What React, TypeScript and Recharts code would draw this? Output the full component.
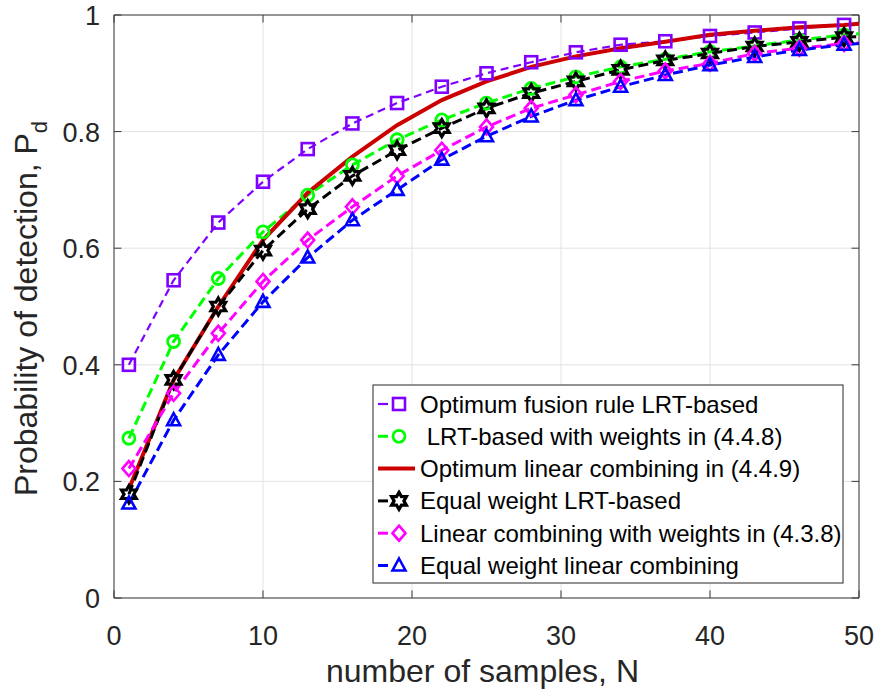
import React from 'react';
import { LineChart, Line, XAxis, YAxis, CartesianGrid, ReferenceLine, ReferenceArea } from 'recharts';

const samples = [1, 4, 7, 10, 13, 16, 19, 22, 25, 28, 31, 34, 37, 40, 43, 46, 49, 50];
const optimumFusion = [0.400, 0.545, 0.644, 0.714, 0.770, 0.814, 0.849, 0.877, 0.900, 0.919, 0.936, 0.949, 0.955, 0.964, 0.970, 0.977, 0.983, 0.985];
const lrtWeighted = [0.274, 0.440, 0.548, 0.628, 0.691, 0.743, 0.786, 0.820, 0.849, 0.874, 0.894, 0.911, 0.924, 0.937, 0.947, 0.957, 0.966, 0.968];
const optimumLinear = [0.187, 0.374, 0.500, 0.614, 0.695, 0.757, 0.811, 0.854, 0.886, 0.911, 0.929, 0.943, 0.954, 0.966, 0.973, 0.979, 0.983, 0.985];
const equalLrt = [0.178, 0.374, 0.500, 0.596, 0.667, 0.724, 0.768, 0.806, 0.840, 0.866, 0.886, 0.906, 0.922, 0.934, 0.946, 0.954, 0.962, 0.963];
const linearWeighted = [0.222, 0.351, 0.454, 0.543, 0.614, 0.671, 0.724, 0.768, 0.808, 0.840, 0.863, 0.886, 0.904, 0.917, 0.934, 0.943, 0.951, 0.952];
const equalLinear = [0.162, 0.305, 0.417, 0.508, 0.584, 0.648, 0.700, 0.752, 0.792, 0.826, 0.854, 0.877, 0.897, 0.914, 0.928, 0.940, 0.949, 0.951];

const xTicks = [0, 10, 20, 30, 40, 50];
const yTicks = [0, 0.2, 0.4, 0.6, 0.8, 1];
const seriesNames = [
  'Optimum fusion rule LRT-based',
  ' LRT-based with weights in (4.4.8)',
  'Optimum linear combining in (4.4.9)',
  'Equal weight LRT-based',
  'Linear combining with weights in (4.3.8)',
  'Equal weight linear combining',
];

const FONT = "'Liberation Sans', Arial, Helvetica, sans-serif";
const AX = '#262626';

type Marker = 'square' | 'circle' | 'none' | 'hexagram' | 'diamond' | 'triangle';

const series: { key: string; values: number[]; color: string; width: number; dash?: string; marker: Marker }[] = [
  { key: 's1', values: optimumFusion, color: '#7f00ff', width: 2.2, dash: '8 5', marker: 'square' },
  { key: 's2', values: lrtWeighted, color: '#00ff00', width: 3, dash: '10 5', marker: 'circle' },
  { key: 's3', values: optimumLinear, color: '#cc0000', width: 4, marker: 'none' },
  { key: 's4', values: equalLrt, color: '#000000', width: 3, dash: '10 5', marker: 'hexagram' },
  { key: 's5', values: linearWeighted, color: '#ff00ff', width: 3, dash: '10 5', marker: 'diamond' },
  { key: 's6', values: equalLinear, color: '#0000ff', width: 3, dash: '10 5', marker: 'triangle' },
];

const rows = samples.map((n, i) => {
  const r: Record<string, number> = { n };
  series.forEach((s) => { r[s.key] = s.values[i]; });
  return r;
});

function hexPoints(cx: number, cy: number, R: number) {
  const r = R / Math.sqrt(3);
  const pts: string[] = [];
  for (let k = 0; k < 12; k++) {
    const a = (-90 + k * 30) * Math.PI / 180;
    const rad = k % 2 === 0 ? R : r;
    pts.push(`${cx + rad * Math.cos(a)},${cy + rad * Math.sin(a)}`);
  }
  return pts.join(' ');
}

function MarkerShape({ type, cx, cy, color }: { type: Marker; cx: number; cy: number; color: string }) {
  const sw = 2.6;
  switch (type) {
    case 'square':
      return <rect x={cx - 6} y={cy - 6} width={12} height={12} fill="none" stroke={color} strokeWidth={sw} />;
    case 'circle':
      return <circle cx={cx} cy={cy} r={6} fill="none" stroke={color} strokeWidth={2.8} />;
    case 'hexagram':
      return <polygon points={hexPoints(cx, cy, 8.5)} fill="none" stroke={color} strokeWidth={3.2} strokeLinejoin="miter" />;
    case 'diamond':
      return <polygon points={`${cx},${cy - 7.5} ${cx + 6.5},${cy} ${cx},${cy + 7.5} ${cx - 6.5},${cy}`} fill="none" stroke={color} strokeWidth={sw} />;
    case 'triangle':
      return <polygon points={`${cx},${cy - 7} ${cx + 6.5},${cy + 5} ${cx - 6.5},${cy + 5}`} fill="none" stroke={color} strokeWidth={sw} />;
    default:
      return null;
  }
}

function makeDot(type: Marker, color: string) {
  return (props: any) => {
    const { cx, cy, payload, index } = props;
    if (payload.n === 50 || cx == null || cy == null) return <g key={`d-${index}`} />;
    return (
      <g key={`d-${index}`}>
        <MarkerShape type={type} cx={cx} cy={cy} color={color} />
      </g>
    );
  };
}

const XTick = (props: any) => {
  const { x, y, payload } = props;
  return (
    <text x={x} y={y + 47} textAnchor="middle" fontSize={27} fill={AX} fontFamily={FONT}>
      {String(payload.value)}
    </text>
  );
};

const YTick = (props: any) => {
  const { x, y, payload } = props;
  return (
    <text x={x - 14} y={y + 10} textAnchor="end" fontSize={27} fill={AX} fontFamily={FONT}>
      {String(payload.value)}
    </text>
  );
};

const XLabel = (props: any) => {
  const vb = props.viewBox || { x: 114, y: 598, width: 745, height: 92 };
  return (
    <text x={vb.x + vb.width / 2 - 4} y={vb.y + 84} textAnchor="middle" fontSize={32} fill={AX} fontFamily={FONT}>
      number of samples, N
    </text>
  );
};

const YLabel = (props: any) => {
  const vb = props.viewBox || { x: 0, y: 15, width: 114, height: 583 };
  const cx = 37;
  const cy = vb.y + vb.height / 2 + 2;
  return (
    <text x={cx} y={cy} transform={`rotate(-90, ${cx}, ${cy})`} textAnchor="middle" fontSize={32} fill={AX} fontFamily={FONT}>
      Probability of detection, P<tspan dy={10} fontSize={22}>d</tspan>
    </text>
  );
};

const tickLenX = 0.5;
const tickLenY = 0.013;

export default function App() {
  const legendLeft = 373;
  const legendTop = 385;
  const rowH = 32.3;
  return (
    <div style={{ position: 'absolute', left: 0, top: 0, width: 879, height: 690, background: '#fff' }}>
      <LineChart width={879} height={690} data={rows} margin={{ top: 15, right: 20, bottom: 0, left: 0 }}>
        <CartesianGrid stroke="#e2e2e2" strokeWidth={1} />
        <XAxis
          dataKey="n"
          type="number"
          domain={[0, 50]}
          ticks={xTicks}
          height={92}
          tickLine={false}
          axisLine={false}
          tickSize={0}
          tickMargin={0}
          tick={<XTick />}
          label={<XLabel />}
          allowDataOverflow
        />
        <YAxis
          type="number"
          domain={[0, 1]}
          ticks={yTicks}
          width={114}
          tickLine={false}
          axisLine={false}
          tickSize={0}
          tickMargin={0}
          tick={<YTick />}
          label={<YLabel />}
          allowDataOverflow
        />
        <ReferenceArea x1={0} x2={50} y1={0} y2={1} fill="none" stroke="#3a3a3a" strokeWidth={1} ifOverflow="visible" />
        {xTicks.map((t) => (
          <ReferenceLine key={`xb${t}`} segment={[{ x: t, y: 0 }, { x: t, y: tickLenY }]} stroke="#3a3a3a" ifOverflow="visible" />
        ))}
        {xTicks.map((t) => (
          <ReferenceLine key={`xt${t}`} segment={[{ x: t, y: 1 }, { x: t, y: 1 - tickLenY }]} stroke="#3a3a3a" ifOverflow="visible" />
        ))}
        {yTicks.map((t) => (
          <ReferenceLine key={`yl${t}`} segment={[{ x: 0, y: t }, { x: tickLenX, y: t }]} stroke="#3a3a3a" ifOverflow="visible" />
        ))}
        {yTicks.map((t) => (
          <ReferenceLine key={`yr${t}`} segment={[{ x: 50, y: t }, { x: 50 - tickLenX, y: t }]} stroke="#3a3a3a" ifOverflow="visible" />
        ))}
        {series.map((s) => (
          <Line
            key={s.key}
            dataKey={s.key}
            type="linear"
            stroke={s.color}
            strokeWidth={s.width}
            strokeDasharray={s.dash}
            dot={s.marker === 'none' ? false : makeDot(s.marker, s.color)}
            activeDot={false}
            isAnimationActive={false}
          />
        ))}
      </LineChart>
      <svg width={879} height={690} style={{ position: 'absolute', left: 0, top: 0, pointerEvents: 'none' }}>
        <rect x={legendLeft} y={legendTop} width={470} height={198} fill="#fff" stroke="#262626" strokeWidth={1} />
        {series.map((s, i) => {
          const cy = legendTop + 19 + i * rowH;
          return (
            <g key={`lg${s.key}`}>
              {s.marker === 'none' ? (
                <line x1={378} x2={415} y1={cy} y2={cy} stroke={s.color} strokeWidth={s.width} />
              ) : (
                <>
                  <line x1={378} x2={388} y1={cy} y2={cy} stroke={s.color} strokeWidth={s.width} />
                  <MarkerShape type={s.marker} cx={399} cy={cy} color={s.color} />
                </>
              )}
              <text x={420} y={cy + 8.5} fontSize={24} fill="#000" fontFamily={FONT} style={{ whiteSpace: 'pre' }}>
                {seriesNames[i]}
              </text>
            </g>
          );
        })}
      </svg>
    </div>
  );
}
